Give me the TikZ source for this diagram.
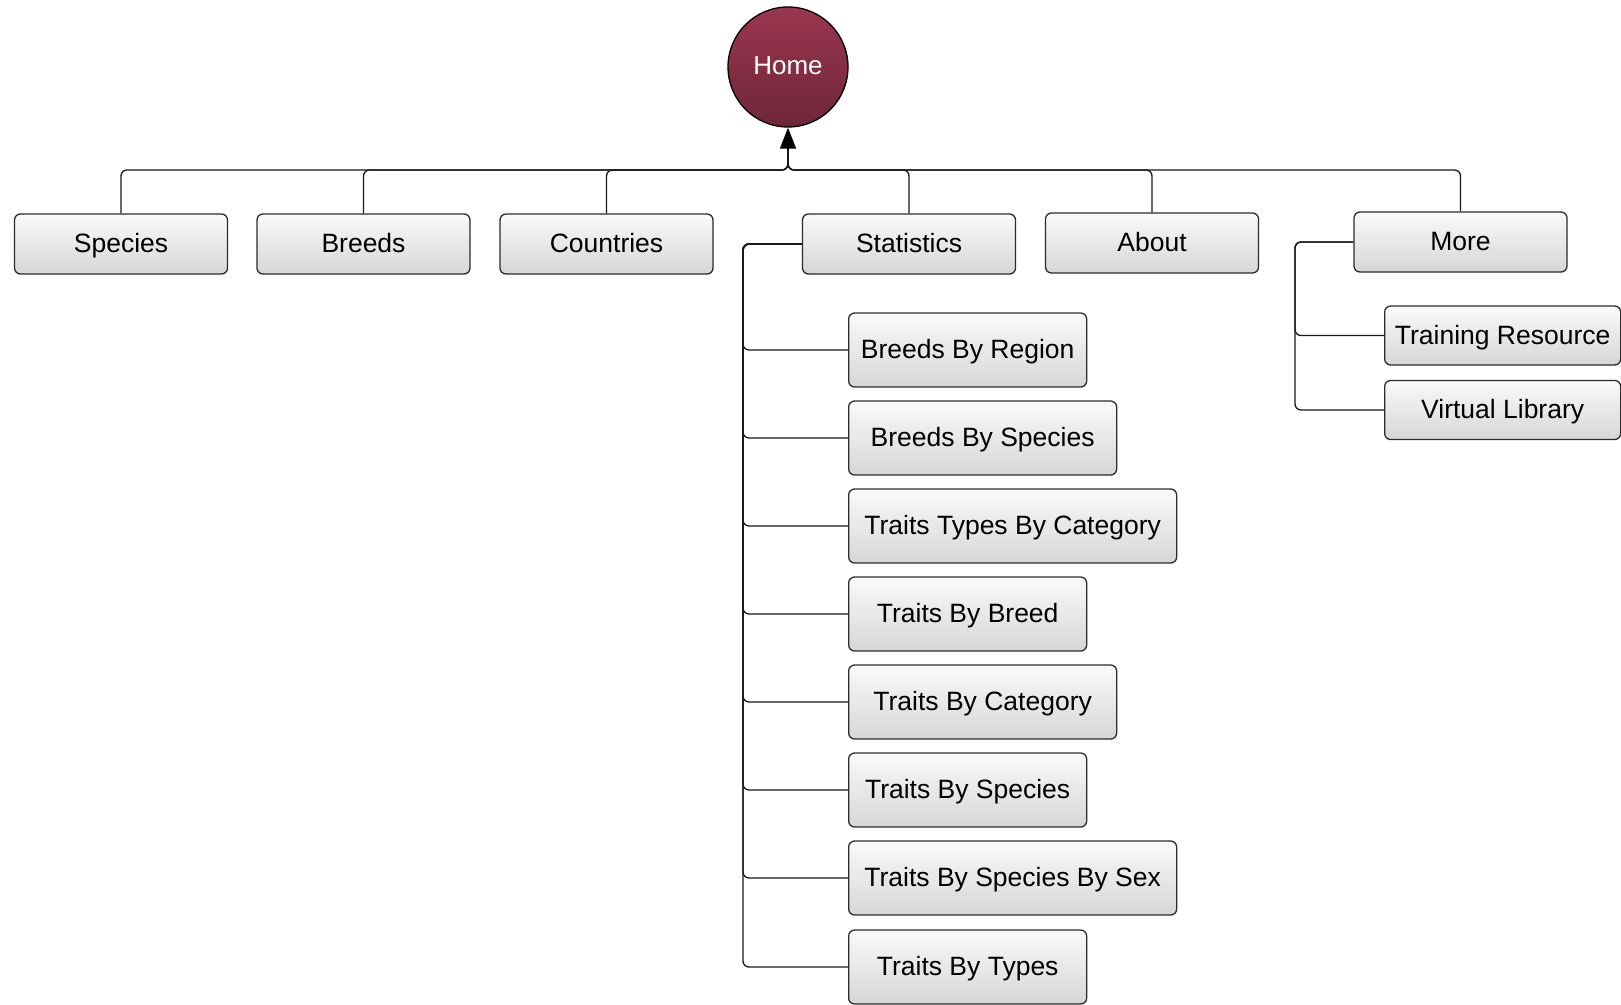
\documentclass[tikz,border=0pt]{standalone}
\usepackage{fontspec}
\setmainfont{Liberation Sans}
\usetikzlibrary{arrows.meta}
\definecolor{homeTop}{HTML}{9A3650}
\definecolor{homeBot}{HTML}{6E2638}
\definecolor{boxTop}{HTML}{FAFAFA}
\definecolor{boxBot}{HTML}{D6D6D6}
\definecolor{edge}{HTML}{2B2B2B}
\tikzset{
  boxnode/.style={draw=edge, line width=1.3pt, rounded corners=6pt,
    top color=boxTop, bottom color=boxBot, minimum height=60pt,
    inner sep=0pt, text height=21pt, text depth=3.5pt,
    font=\fontsize{26.5pt}{30pt}\selectfont, text=black},
  topbox/.style={boxnode, minimum width=213pt},
  subbox/.style={boxnode, minimum height=74pt, anchor=west},
  morebox/.style={boxnode, minimum height=59pt, minimum width=236pt, anchor=west},
  homenode/.style={circle, draw=black, line width=1.3pt, top color=homeTop,
    bottom color=homeBot, minimum size=120pt, inner sep=0pt,
    text height=20pt, text depth=5pt,
    font=\fontsize{26pt}{30pt}\selectfont, text=white},
  conn/.style={draw=black!90, line width=1.35pt, rounded corners=6pt},
  tip/.style={draw=black, line width=1.4pt, -{Triangle[length=21pt,width=16pt]}}
}
\begin{document}
\begin{tikzpicture}[x=1pt,y=-1pt]
\useasboundingbox (0,0) rectangle (1621,1004);
\node[homenode] (home) at (788,67) {Home};
\node[topbox] (species) at (121,244) {Species};
\node[topbox] (breeds) at (363.5,244) {Breeds};
\node[topbox] (countries) at (606.5,244) {Countries};
\node[topbox] (stats) at (909,244) {Statistics};
\node[topbox] (about) at (1152,243) {About};
\node[topbox] (more) at (1460.5,242) {More};
\node[subbox, minimum width=238pt] (s1) at (848,350) {Breeds By Region};
\node[subbox, minimum width=268pt] (s2) at (848,438) {Breeds By Species};
\node[subbox, minimum width=328pt] (s3) at (848,526) {Traits Types By Category};
\node[subbox, minimum width=238pt] (s4) at (848,614) {Traits By Breed};
\node[subbox, minimum width=268pt] (s5) at (848,702) {Traits By Category};
\node[subbox, minimum width=238pt] (s6) at (848,790) {Traits By Species};
\node[subbox, minimum width=328pt] (s7) at (848,878) {Traits By Species By Sex};
\node[subbox, minimum width=238pt] (s8) at (848,967) {Traits By Types};
\node[morebox] (m1) at (1384,335.5) {Training Resource};
\node[morebox] (m2) at (1384,410) {Virtual Library};
\coordinate (junc) at (788,170);
\coordinate (stem) at (788,150);
\coordinate (sbus) at (743,244);
\coordinate (mbus) at (1295,242);
\foreach \b in {species,breeds,countries,stats,about,more}
  \draw[conn] (\b.north) |- (junc) -- (stem);
\draw[tip] (stem) -- (home.south);
\foreach \c in {s1,s2,s3,s4,s5,s6,s7,s8}
  \draw[conn] (stats.west) -- (sbus) |- (\c.west);
\foreach \c in {m1,m2}
  \draw[conn] (more.west) -- (mbus) |- (\c.west);
\end{tikzpicture}
\end{document}
